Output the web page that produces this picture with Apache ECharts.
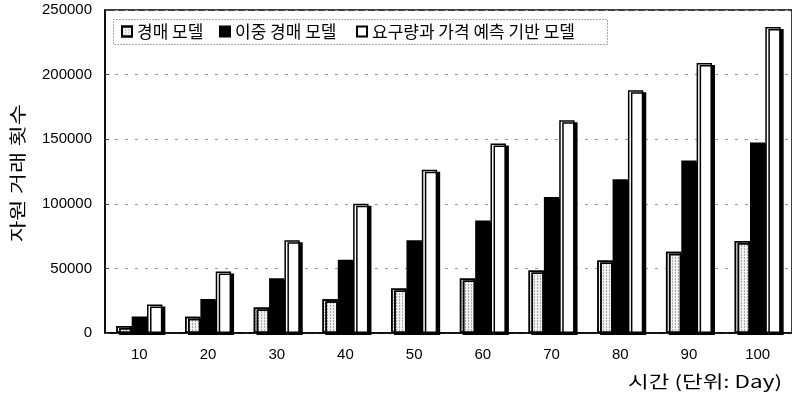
<!DOCTYPE html>
<html>
<head>
<meta charset="utf-8">
<script src="https://cdn.jsdelivr.net/npm/echarts@6/dist/echarts.min.js"></script>
<style>
  html, body { margin: 0; padding: 0; background: #fff; }
  #chart { width: 792px; height: 405px; }
</style>
</head>
<body>
<div id="chart"></div>
<script>
// Days on the horizontal axis
const days = ['10', '20', '30', '40', '50', '60', '70', '80', '90', '100'];

// Number of resource trades per model
const auctionModel = [5500, 12500, 19700, 26100, 34400, 42200, 48400, 56200, 62900, 71200];
const doubleAuctionModel = [12700, 26400, 42400, 56700, 71700, 87000, 105300, 119000, 133500, 147500];
const predictionModel = [22000, 47600, 71700, 100000, 126300, 146700, 164600, 187900, 208900, 236800];

const seriesNames = ['경매 모델', '이중 경매 모델', '요구량과 가격 예측 기반 모델'];

const yTicks = { min: 0, max: 250000, interval: 50000 };

const yAxisTitle = '자원 거래 횟수';
const xAxisTitle = '시간 (단위: Day)';

const latin = '"Liberation Sans", Arial, sans-serif';
const korean = '"Noto Sans CJK KR", "Liberation Sans", sans-serif';

const chart = echarts.init(document.getElementById('chart'), null, { renderer: 'canvas' });

// Axis titles use a wide, loosely set face; stretch the text to the wanted run length.
function stretchFor(text, font, targetWidth) {
  const probe = new echarts.graphic.Text({ style: { text: text, font: font } });
  const w = probe.getBoundingRect().width;
  return w > 0 ? targetWidth / w : 1;
}

const titleFont = '17px ' + korean;
const yTitleScale = stretchFor(yAxisTitle, titleFont, 138);
const xTitleScale = stretchFor(xAxisTitle, titleFont, 154);

const barShadow = {
  shadowColor: '#000',
  shadowBlur: 0,
  shadowOffsetX: 3,
  shadowOffsetY: 2
};

const legendText = { fontFamily: korean, fontSize: 17, color: '#000' };
function legendAt(left, name) {
  return {
    left: left,
    top: 23,
    itemWidth: 10,
    itemHeight: 10,
    itemGap: 0,
    padding: 0,
    icon: 'rect',
    textStyle: legendText,
    data: [name]
  };
}

chart.setOption({
  animation: false,
  backgroundColor: '#fff',
  grid: {
    left: 105,
    right: -6,
    top: 10,
    bottom: 72,
    show: true,
    borderColor: '#000',
    borderWidth: 1.5
  },
  legend: [
    legendAt(121, seriesNames[0]),
    legendAt(219, seriesNames[1]),
    legendAt(356, seriesNames[2])
  ],
  xAxis: {
    type: 'category',
    data: days,
    axisLine: { lineStyle: { color: '#000', width: 1.5 } },
    axisTick: { inside: true, length: 3, lineStyle: { color: '#666' } },
    axisLabel: { fontFamily: latin, fontSize: 15, color: '#000', margin: 14 }
  },
  yAxis: {
    type: 'value',
    min: yTicks.min,
    max: yTicks.max,
    interval: yTicks.interval,
    axisLine: { show: true, lineStyle: { color: '#000', width: 1.5 } },
    axisTick: { show: true, inside: true, length: 4, lineStyle: { color: '#444' } },
    axisLabel: {
      fontFamily: latin, fontSize: 15, color: '#000', margin: 13,
      formatter: function (v) { return String(v); }
    },
    splitLine: { show: true, lineStyle: { color: '#999', width: 1, type: [3, 7] } }
  },
  graphic: [
    {
      type: 'rect',
      shape: { x: 113.5, y: 19.5, width: 494, height: 25 },
      style: { fill: 'transparent', stroke: '#555', lineWidth: 1, lineDash: [1, 2] },
      z: 5
    },
    {
      type: 'text',
      x: 18,
      y: 173,
      rotation: Math.PI / 2,
      scaleX: yTitleScale,
      style: {
        text: yAxisTitle,
        font: titleFont,
        fill: '#000',
        align: 'center',
        verticalAlign: 'middle'
      }
    },
    {
      type: 'text',
      x: 782,
      y: 382,
      scaleX: xTitleScale,
      style: {
        text: xAxisTitle,
        font: titleFont,
        fill: '#000',
        align: 'right',
        verticalAlign: 'middle'
      }
    }
  ],
  series: [
    {
      name: seriesNames[0],
      type: 'bar',
      data: auctionModel,
      barGap: '0%',
      barCategoryGap: '33%',
      itemStyle: Object.assign({
        color: '#f2f2f2',
        borderColor: '#000',
        borderWidth: 1.5,
        decal: {
          symbol: 'rect',
          symbolSize: 1,
          color: 'rgba(0,0,0,0.3)',
          dashArrayX: [1, 2],
          dashArrayY: [1, 2],
          rotation: 0
        }
      }, barShadow)
    },
    {
      name: seriesNames[1],
      type: 'bar',
      data: doubleAuctionModel,
      barGap: '0%',
      barCategoryGap: '33%',
      itemStyle: Object.assign({
        color: '#000',
        borderColor: '#000',
        borderWidth: 1.5
      }, barShadow)
    },
    {
      name: seriesNames[2],
      type: 'bar',
      data: predictionModel,
      barGap: '0%',
      barCategoryGap: '33%',
      itemStyle: Object.assign({
        color: '#fff',
        borderColor: '#000',
        borderWidth: 1.5
      }, barShadow)
    }
  ]
});
</script>
</body>
</html>
